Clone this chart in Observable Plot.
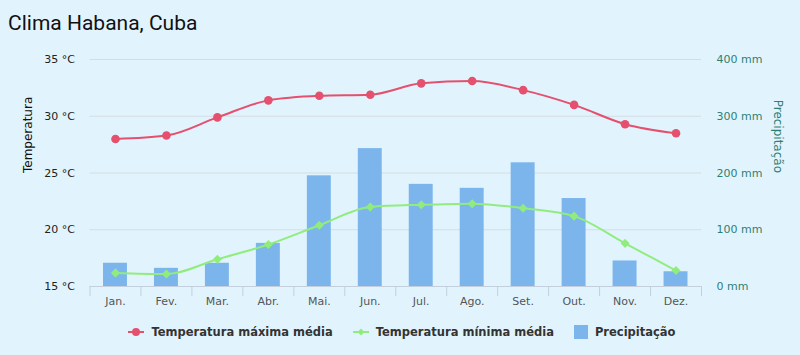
<!DOCTYPE html>
<html>
<head>
<meta charset="utf-8">
<script src="https://cdn.jsdelivr.net/npm/d3@7"></script>
<script src="https://cdn.jsdelivr.net/npm/@observablehq/plot@0.6"></script>
<style>
  html, body { margin: 0; padding: 0; background: #e1f4fd; }
  #wrap { width: 800px; height: 355px; position: relative; overflow: hidden; background: #e1f4fd; }
  #title { height: 45px; font-family: Roboto, sans-serif; font-size: 21px; color: #111; padding-left: 8px; line-height: 47px; box-sizing: border-box; }
  #legend { display: flex; justify-content: center; align-items: center; font-family: "DejaVu Sans", sans-serif; font-weight: bold; font-size: 11.5px; color: #333; height: 44px; padding-left: 4px; }
  .item { display: flex; align-items: center; margin: 0 10px; }
  .item svg { margin-right: 7px; }
</style>
</head>
<body>
<div id="wrap">
  <div id="title">Clima Habana, Cuba</div>
  <div id="chart"></div>
  <div id="legend"></div>
</div>
<script>
const months = ["Jan.", "Fev.", "Mar.", "Abr.", "Mai.", "Jun.", "Jul.", "Ago.", "Set.", "Out.", "Nov.", "Dez."];
const tempMax = [28.0, 28.3, 29.9, 31.4, 31.8, 31.9, 32.9, 33.1, 32.3, 31.0, 29.3, 28.5];
const tempMin = [16.2, 16.1, 17.4, 18.7, 20.4, 22.0, 22.2, 22.3, 21.9, 21.2, 18.8, 16.4];
const precip = [41, 32, 41, 76, 195, 243, 180, 173, 218, 155, 45, 26];
const tempTicks = [15, 20, 25, 30, 35];
const seriesNames = ["Temperatura máxima média", "Temperatura mínima média", "Precipitação"];

const colMax = "#e4506e", colMin = "#90ed7d", colBar = "#7cb5ec", teal = "#2f7f74";
// precipitation axis 0..400 mm shares the 15..35 °C scale
const p2t = p => 15 + p / 20;
const t2p = t => (t - 15) * 20;

const rows = months.map((m, i) => ({ i, m, tmax: tempMax[i], tmin: tempMin[i], p: precip[i] }));

const chart = Plot.plot({
  width: 800,
  height: 265,
  marginTop: 14,
  marginBottom: 24,
  marginLeft: 89.5,
  marginRight: 99,
  style: { fontFamily: "DejaVu Sans, sans-serif", fontSize: "11px", background: "transparent", overflow: "visible" },
  x: { domain: [0, 12] },
  y: { domain: [15, 35] },
  marks: [
    Plot.gridY(tempTicks, { stroke: "#d3dce2", strokeOpacity: 1 }),
    Plot.rectY(rows, { x1: d => d.i, x2: d => d.i + 1, y1: 15, y2: d => p2t(d.p), fill: colBar, insetLeft: 13.5, insetRight: 13.5 }),
    Plot.ruleY([15], { stroke: "#c3cfdc" }),
    Plot.axisX(d3.range(13), { tickSize: 10, stroke: "#c3cfdc", tickFormat: () => "" }),
    Plot.axisX(months.map((m, i) => i + 0.5), { tickSize: 0, tickPadding: 11, tickFormat: v => months[Math.floor(v)], fill: "#555", label: null }),
    Plot.axisY(tempTicks, { anchor: "left", tickSize: 0, tickPadding: 15, tickFormat: d => `${d} °C`, fill: "#222", label: null }),
    Plot.axisY(tempTicks, { anchor: "right", tickSize: 0, tickPadding: 15, tickFormat: d => `${t2p(d)} mm`, fill: teal, label: null }),
    Plot.text(["Temperatura"], { frameAnchor: "left", rotate: -90, dx: -62, fill: "#111", fontSize: 12 }),
    Plot.text(["Precipitação"], { frameAnchor: "right", rotate: 90, dx: 76, fill: teal, fontSize: 12 }),
    Plot.line(rows, { x: d => d.i + 0.5, y: "tmax", stroke: colMax, strokeWidth: 2, curve: "monotone-x" }),
    Plot.dot(rows, { x: d => d.i + 0.5, y: "tmax", fill: colMax, r: 4.3 }),
    Plot.line(rows, { x: d => d.i + 0.5, y: "tmin", stroke: colMin, strokeWidth: 2, curve: "monotone-x" }),
    Plot.dot(rows, { x: d => d.i + 0.5, y: "tmin", fill: colMin, symbol: "square", rotate: 45, r: 3.6 })
  ]
});
document.getElementById("chart").appendChild(chart);

const legend = document.getElementById("legend");
const swatches = [
  `<svg width="16" height="12"><line x1="0" y1="6" x2="16" y2="6" stroke="${colMax}" stroke-width="2"/><circle cx="8" cy="6" r="4" fill="${colMax}"/></svg>`,
  `<svg width="16" height="12"><line x1="0" y1="6" x2="16" y2="6" stroke="${colMin}" stroke-width="2"/><path d="M8 2.5 L11.5 6 L8 9.5 L4.5 6 Z" fill="${colMin}"/></svg>`,
  `<svg width="14" height="14"><rect width="14" height="14" fill="${colBar}"/></svg>`
];
seriesNames.forEach((n, k) => {
  const el = document.createElement("div");
  el.className = "item";
  el.innerHTML = swatches[k] + `<span>${n}</span>`;
  legend.appendChild(el);
});
</script>
</body>
</html>
